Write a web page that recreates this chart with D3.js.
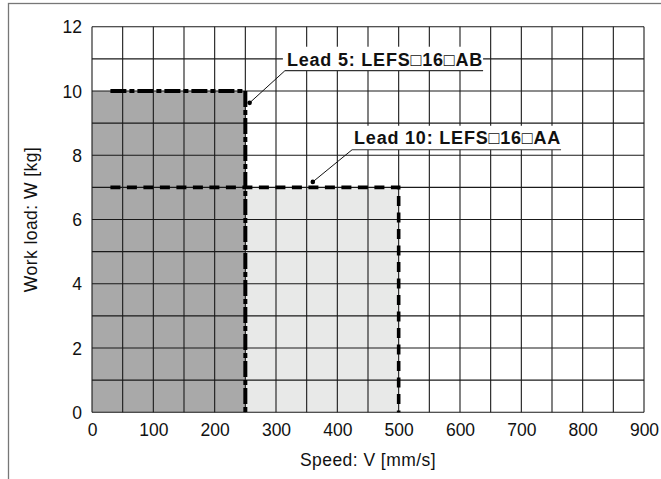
<!DOCTYPE html>
<html><head><meta charset="utf-8">
<script src="https://cdn.jsdelivr.net/npm/d3@7"></script>
<style>
html,body{margin:0;padding:0;background:#fff;}
svg{display:block;font-family:"Liberation Sans",Arial,sans-serif;}
</style></head>
<body>
<svg id="chart" width="661" height="479"></svg>
<script>
// ---- data ----
const xTicks = [0,100,200,300,400,500,600,700,800,900];
const yTicks = [0,2,4,6,8,10,12];
const xGrid = d3.range(0, 901, 50);
const yGrid = d3.range(0, 13, 1);
const seriesNames = ["Lead 5: LEFS\u25A116\u25A1AB", "Lead 10: LEFS\u25A116\u25A1AA"];
const maxSpeed = [250, 500];        // mm/s
const maxLoad = [10, 7];            // kg
const lineStart = [30, 30];         // speed where dashed limit line starts
const pointerAt = [[257, 9.63], [360, 7.17]];   // where leader dots sit (speed, load)
const labelAt = [[314.5, 10.63], [424, 8.17]];   // left end of label underline (speed, load)
const xLabel = "Speed: V [mm/s]";
const yLabel = "Work load: W [kg]";

// ---- layout ----
const W = 661, H = 479;
const plot = {left: 92, top: 26.7, right: 644, bottom: 412.3};
const svg = d3.select("#chart");

const x = d3.scaleLinear().domain([0, 900]).range([plot.left, plot.right]);
const y = d3.scaleLinear().domain([0, 12]).range([plot.bottom, plot.top]);

// outer frame (only left/top visible)
svg.append("rect").attr("x", 8.5).attr("y", 3.5).attr("width", W + 20).attr("height", H + 20)
  .attr("fill", "none").attr("stroke", "#777").attr("stroke-width", 1.3);

// filled regions (lead 10 behind, lead 5 on top)
const fills = ["#a9a9a9", "#e8e9e8"];
[1, 0].forEach(i => {
  const x0 = i === 1 ? maxSpeed[0] : 0;
  svg.append("rect")
    .attr("x", x(x0)).attr("y", y(maxLoad[i]))
    .attr("width", x(maxSpeed[i]) - x(x0))
    .attr("height", y(0) - y(maxLoad[i]))
    .attr("fill", fills[i]);
});

// grid
const grid = svg.append("g").attr("stroke", "#1a1a1a").attr("stroke-width", 1.1);
grid.selectAll("line.v").data(xGrid).join("line")
  .attr("x1", d => x(d)).attr("x2", d => x(d))
  .attr("y1", y(0)).attr("y2", y(12));
grid.selectAll("line.h").data(yGrid).join("line")
  .attr("y1", d => y(d)).attr("y2", d => y(d))
  .attr("x1", x(0)).attr("x2", x(900));

// axes labels via d3 axis
const xAxis = d3.axisBottom(x).tickValues(xTicks).tickSize(0).tickPadding(0).tickFormat(d3.format("d"));
const gx = svg.append("g").attr("transform", `translate(0,${plot.bottom})`).call(xAxis);
gx.select(".domain").remove();
gx.selectAll("text").attr("font-size", "17.5px").attr("fill", "#111")
  .attr("dy", null).attr("y", 23.5).attr("font-family", "Liberation Sans, Arial, sans-serif");

const yAxis = d3.axisLeft(y).tickValues(yTicks).tickSize(0).tickPadding(0).tickFormat(d3.format("d"));
const gy = svg.append("g").attr("transform", `translate(${plot.left},0)`).call(yAxis);
gy.select(".domain").remove();
gy.selectAll("text").attr("font-size", "17.5px").attr("fill", "#111")
  .attr("x", -10).attr("dy", "0.35em").attr("font-family", "Liberation Sans, Arial, sans-serif");

// axis titles
svg.append("text").attr("x", (plot.left + plot.right) / 2).attr("y", 466)
  .attr("text-anchor", "middle").attr("font-size", "17.5px").attr("letter-spacing", "0.45px")
  .attr("fill", "#111").text(xLabel);
svg.append("text").attr("transform", `translate(37,${(plot.top + plot.bottom) / 2}) rotate(-90)`)
  .attr("text-anchor", "middle").attr("font-size", "17.5px").attr("letter-spacing", "0.45px")
  .attr("fill", "#111").text(yLabel);

// dashed limit lines
const line = d3.line().x(d => x(d[0])).y(d => y(d[1]));
const dashes = ["16,3,5,3", "10,6.5"];
const widths = [4, 3.6];
[1, 0].forEach(i => {
  const pts = [[lineStart[i], maxLoad[i]], [maxSpeed[i], maxLoad[i]], [maxSpeed[i], 0]];
  svg.append("path").attr("d", line(pts)).attr("fill", "none")
    .attr("stroke", "#000").attr("stroke-width", widths[i])
    .attr("stroke-dasharray", dashes[i]);
});

// labels with leader lines
const labelGap = [5, 6];
[0, 1].forEach(i => {
  const ax = x(labelAt[i][0]), ay = y(labelAt[i][1]);
  const g = svg.append("g");
  const bg = g.append("rect").attr("fill", "#fff");
  const t = g.append("text").attr("x", ax + 2).attr("y", ay - labelGap[i])
    .attr("font-size", "18px").attr("font-weight", "bold").attr("letter-spacing", "0.8px")
    .attr("fill", "#111")
    .text(seriesNames[i]);
  const bb = t.node().getBBox();
  const right = bb.x + bb.width;
  bg.attr("x", ax - 2).attr("y", ay - 24).attr("width", right - ax + 2).attr("height", 24);
  g.append("line").attr("x1", ax).attr("x2", right).attr("y1", ay).attr("y2", ay)
    .attr("stroke", "#333").attr("stroke-width", 1.2);
  const px = x(pointerAt[i][0]), py = y(pointerAt[i][1]);
  g.append("line").attr("x1", ax).attr("y1", ay).attr("x2", px).attr("y2", py)
    .attr("stroke", "#111").attr("stroke-width", 1);
  g.append("circle").attr("cx", px).attr("cy", py).attr("r", 2.3).attr("fill", "#000");
});
</script>
</body></html>
